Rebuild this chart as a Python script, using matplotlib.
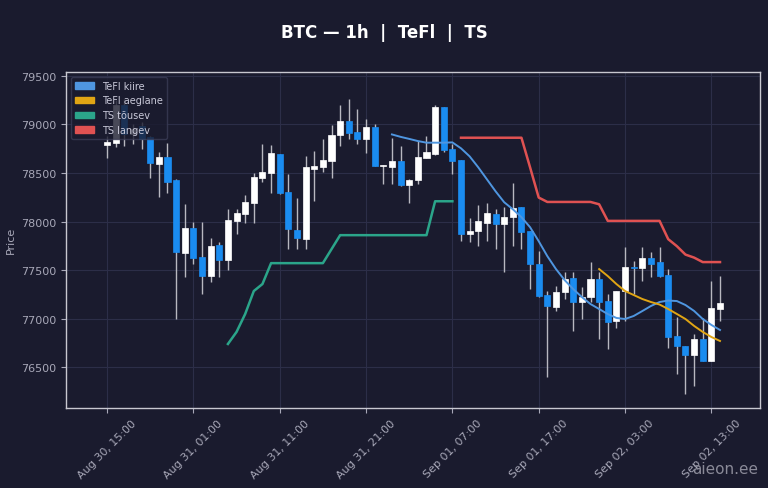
import numpy as np
import pandas as pd
import matplotlib
matplotlib.use("Agg")
import matplotlib.pyplot as plt
import matplotlib.dates as mdates
from matplotlib.patches import Patch

# hourly candles, Aug 30 15:00 -> Sep 02 14:00
times = pd.date_range("2025-08-30 15:00", periods=72, freq="h")

opens = [78784, 78810, 79200, 78900, 78980, 78863, 78596, 78658, 78428, 77675,
         77929, 77631, 77442, 77750, 77603, 78007, 78083, 78196, 78453, 78504,
         78692, 78299, 77914, 77819, 78545, 78566, 78623, 78887, 79034, 78915,
         78846, 78966, 78570, 78561, 78623, 78377, 78425, 78651, 78699, 79172,
         78743, 78630, 77870, 77898, 77990, 78076, 77973, 78042, 78145, 77894,
         77562, 77237, 77124, 77272, 77415, 77169, 77220, 77401, 77175, 76980,
         77288, 77530, 77518, 77621, 77580, 77442, 76816, 76717, 76628, 76785,
         76569, 77100]
highs = [78880, 79250, 79260, 79000, 79030, 78877, 78712, 78805, 78440, 78178,
         77997, 77997, 77836, 77785, 78127, 78127, 78271, 78504, 78795, 78784,
         78700, 78494, 78247, 78674, 78726, 78846, 78990, 79205, 79257, 79154,
         79051, 79000, 78580, 78863, 78777, 78435, 78828, 78880, 79205, 79180,
         78795, 78630, 78035, 78171, 78196, 78134, 78155, 78401, 78150, 77900,
         77699, 77288, 77333, 77483, 77477, 77323, 77586, 77477, 77254, 77288,
         77734, 77590, 77734, 77689, 77734, 77511, 77015, 76720, 76843, 77005,
         77391, 77442]
lows = [78651, 78764, 78777, 78795, 78743, 78445, 78250, 78291, 76997, 77432,
        77562, 77254, 77380, 77426, 77504, 77870, 77990, 77990, 78407, 78299,
        78280, 77716, 77716, 77716, 78212, 78510, 78453, 78777, 78846, 78795,
        78709, 78570, 78384, 78384, 78370, 78186, 78384, 78650, 78690, 78720,
        78486, 77802, 77785, 77750, 77802, 77716, 77477, 77750, 77716, 77305,
        77220, 76399, 77083, 77203, 76877, 76997, 77169, 76792, 76689, 76902,
        76980, 77254, 77391, 77426, 77430, 76696, 76432, 76227, 76312, 76565,
        76565, 76980]
closes = [78820, 79200, 78900, 78950, 78846, 78599, 78658, 78412, 77682, 77929,
          77621, 77442, 77744, 77603, 78014, 78086, 78202, 78459, 78510, 78702,
          78291, 77922, 77836, 78555, 78572, 78633, 78890, 79034, 78908, 78846,
          78966, 78572, 78579, 78623, 78377, 78428, 78664, 78709, 79172, 78733,
          78623, 77870, 77904, 77997, 78083, 77980, 78042, 78134, 77894, 77562,
          77230, 77128, 77272, 77408, 77169, 77220, 77401, 77169, 76963, 77282,
          77528, 77520, 77621, 77562, 77436, 76809, 76717, 76628, 76785, 76569,
          77107, 77162]

# indicators (start index + values)
kiire_start = 33
tefl_kiire = [78897, 78872, 78851, 78829, 78812, 78812, 78812, 78815, 78754, 78671,
              78558, 78435, 78312, 78199, 78127, 78045, 77942, 77798, 77644, 77511,
              77398, 77305, 77223, 77151, 77100, 77048, 77008, 76997, 77028, 77079,
              77131, 77172, 77187, 77182, 77141, 77080, 76997, 76936, 76884]
aeglane_start = 57
tefl_aeglane = [77511, 77439, 77357, 77285, 77244, 77203, 77172, 77146, 77100, 77049,
                76997, 76926, 76864, 76812, 76771]
tousev_start = 14
ts_tousev = [76740, 76864, 77049, 77285, 77357, 77572, 77572, 77572, 77572, 77572,
             77572, 77572, 77716, 77860, 77860, 77860, 77860, 77860, 77860, 77860,
             77860, 77860, 77860, 77860, 78209, 78209, 78209]
langev_start = 41
ts_langev = [78863, 78863, 78863, 78863, 78863, 78863, 78863, 78863, 78558, 78247,
             78202, 78202, 78202, 78202, 78202, 78202, 78178, 78007, 78007, 78007,
             78007, 78007, 78007, 78007, 77819, 77747, 77660, 77629, 77583, 77583,
             77583]

BG = "#1a1b2e"
UP = "#ffffff"
DOWN = "#1a8cf0"

fig = plt.figure(figsize=(7.68, 4.89), dpi=100, facecolor=BG)
ax = fig.add_axes([0.086, 0.164, 0.904, 0.687], facecolor=BG)

x = mdates.date2num(times)
o = np.array(opens); h = np.array(highs); l = np.array(lows); c = np.array(closes)
up = c >= o
cols = np.where(up, UP, DOWN)
w = 0.7 / 24

ax.vlines(x, l, h, color="#b8b8c0", linewidth=1, zorder=2)
ax.bar(x, np.abs(c - o) + 4, bottom=np.minimum(o, c), width=w, color=cols,
       edgecolor=cols, linewidth=0.5, zorder=3)

def seg(start, vals):
    return x[start:start + len(vals)], vals

ax.plot(*seg(kiire_start, tefl_kiire), color="#4f96e0", lw=1.4, zorder=4)
ax.plot(*seg(aeglane_start, tefl_aeglane), color="#e0a514", lw=1.4, zorder=4)
ax.plot(*seg(tousev_start, ts_tousev), color="#2ba58a", lw=1.8, zorder=4)
ax.plot(*seg(langev_start, ts_langev), color="#e05252", lw=1.8, zorder=4)

ax.set_ylim(76083, 79541)
ax.set_xlim(x[0] - 4.75 / 24, x[0] + 75.67 / 24)

ticks = mdates.date2num(pd.date_range("2025-08-30 15:00", periods=8, freq="10h"))
ax.set_xticks(ticks)
ax.xaxis.set_major_formatter(mdates.DateFormatter("%b %d, %H:%M"))
ax.set_yticks([76500, 77000, 77500, 78000, 78500, 79000, 79500])
plt.setp(ax.get_xticklabels(), rotation=45)

ax.tick_params(colors="#a8a8b8", labelsize=8, length=3.5)
for s in ax.spines.values():
    s.set_color("#c8c8d0")
    s.set_linewidth(1)
ax.grid(True, color="#2c2e48", linewidth=0.8)
ax.set_axisbelow(True)
ax.set_ylabel("Price", color="#a8a8b8", fontsize=8)

fig.suptitle("BTC — 1h  |  TeFl  |  TS", color="white", fontsize=12,
             fontweight="bold", y=0.95)

handles = [Patch(color="#4f96e0", label="TeFl kiire"),
           Patch(color="#e0a514", label="TeFl aeglane"),
           Patch(color="#2ba58a", label="TS tõusev"),
           Patch(color="#e05252", label="TS langev")]
leg = ax.legend(handles=handles, loc="upper left", fontsize=7, facecolor=BG,
                edgecolor="#3a3c55", framealpha=0.8, labelcolor="#c8c8d8")
leg.set_zorder(5)

fig.text(0.987, 0.03, "aieon.ee", color="#8a8a98", fontsize=11, ha="right")

fig.savefig("out.png", dpi=100, facecolor=BG)
